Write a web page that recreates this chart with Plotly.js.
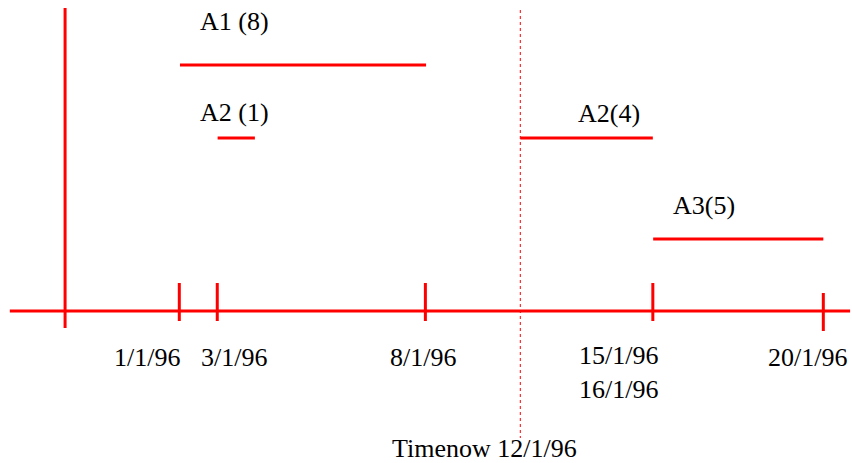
<!DOCTYPE html>
<html>
<head>
<meta charset="utf-8">
<script src="https://cdn.plot.ly/plotly-3.0.1.min.js"></script>
<style>html,body{margin:0;padding:0;background:#fff;}#chart{width:852px;height:463px;}</style>
</head>
<body>
<div id="chart"></div>
<script>
// Timeline positions in day units (as drawn), heights in units above the time axis
var taskNames   = ["A1 (8)", "A2 (1)", "A2(4)", "A3(5)"];
var taskStart   = [1.02, 2.13, 11.06, 14.98];
var taskEnd     = [8.28, 3.23, 14.97, 20.0];
var taskLevel   = [246, 173, 173, 72];
var labelX      = [2.64, 2.64, 13.69, 16.48];
var labelLevel  = [290, 199, 198, 106];

var tickPos     = [1.0, 2.12, 8.26, 14.97, 20.0];
var tickTop     = [28, 28, 28, 28, 18];
var tickBottom  = [-10, -10, -10, -10, -20];
var tickLabels  = ["1/1/96", "3/1/96", "8/1/96", "15/1/96<br>16/1/96", "20/1/96"];
var tickLabelX  = [0.06, 2.61, 8.18, 13.97, 19.52];
var tickLabelLevel = [-46, -46, -46, -61, -46];

var axisStart = -4.0, axisEnd = 20.79;
var originX = -2.37, originTop = 303, originBottom = -17;
var timeNowX = 11.06, timeNowTop = 301, timeNowBottom = -127;
var timeNowLabel = "Timenow 12/1/96";
var timeNowLabelX = 9.99, timeNowLabelLevel = -137;

var red = "#ff0000";
var traces = [];

// time axis
traces.push({x: [axisStart, axisEnd], y: [0, 0], mode: "lines", line: {color: red, width: 3}, hoverinfo: "skip"});
// origin vertical
traces.push({x: [originX, originX], y: [originTop, originBottom], mode: "lines", line: {color: red, width: 3}, hoverinfo: "skip"});
// ticks
var tx = [], ty = [];
tickPos.forEach(function (p, i) { tx.push(p, p, null); ty.push(tickTop[i], tickBottom[i], null); });
traces.push({x: tx, y: ty, mode: "lines", line: {color: red, width: 3}, hoverinfo: "skip"});
// time now dotted line
traces.push({x: [timeNowX, timeNowX], y: [timeNowTop, timeNowBottom], mode: "lines", line: {color: red, width: 1, dash: "dot"}, hoverinfo: "skip"});
// task bars
taskNames.forEach(function (n, i) {
  traces.push({x: [taskStart[i], taskEnd[i]], y: [taskLevel[i], taskLevel[i]], mode: "lines", line: {color: red, width: 3}, name: n, hoverinfo: "skip"});
});

var font = {family: "Liberation Serif, Times New Roman, serif", size: 26, color: "#000"};
var annotations = [];
taskNames.forEach(function (n, i) {
  annotations.push({x: labelX[i], y: labelLevel[i], text: n, showarrow: false, xanchor: "center", yanchor: "middle", font: font});
});
tickLabels.forEach(function (t, i) {
  annotations.push({x: tickLabelX[i], y: tickLabelLevel[i], text: t, showarrow: false, xanchor: "center", yanchor: "middle", font: font, align: "left"});
});
annotations.push({x: timeNowLabelX, y: timeNowLabelLevel, text: timeNowLabel, showarrow: false, xanchor: "center", yanchor: "middle", font: font, borderpad: 0});

var layout = {
  width: 852, height: 463,
  margin: {l: 0, r: 0, t: 0, b: 0, pad: 0},
  paper_bgcolor: "#fff", plot_bgcolor: "#fff",
  showlegend: false,
  xaxis: {range: [-4.29, 20.846], visible: false, showgrid: false, zeroline: false, fixedrange: true},
  yaxis: {range: [-152, 311], visible: false, showgrid: false, zeroline: false, fixedrange: true},
  annotations: annotations
};

Plotly.newPlot("chart", traces, layout, {staticPlot: true, displayModeBar: false});
</script>
</body>
</html>
